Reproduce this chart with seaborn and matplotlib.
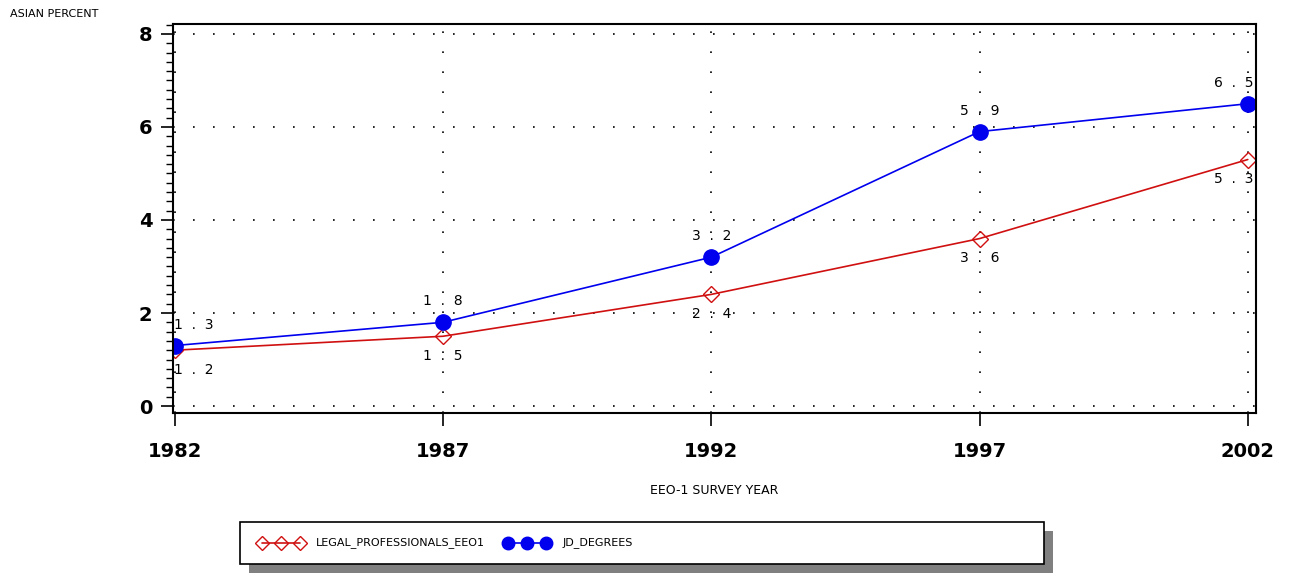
import matplotlib
matplotlib.use("Agg")
import matplotlib.pyplot as plt
from matplotlib.patches import Rectangle
from matplotlib.ticker import MultipleLocator
import seaborn as sns
import pandas as pd

years = [1982, 1987, 1992, 1997, 2002]
legal_eeo1 = [1.2, 1.5, 2.4, 3.6, 5.3]
jd_degrees = [1.3, 1.8, 3.2, 5.9, 6.5]
series_names = ["LEGAL_PROFESSIONALS_EEO1", "JD_DEGREES"]

df = pd.DataFrame({
    "year": years * 2,
    "pct": legal_eeo1 + jd_degrees,
    "series": [series_names[0]] * len(years) + [series_names[1]] * len(years),
})

sns.set_style("white")
plt.rcParams['font.family'] = ['DejaVu Sans']
plt.rcParams['text.color'] = "black"
plt.rcParams['xtick.color'] = "black"
plt.rcParams['ytick.color'] = "black"

fig = plt.figure(figsize=(12.92, 5.76), dpi=100)
ax = fig.add_axes([0.134, 0.283, 0.838, 0.675])

palette = {series_names[0]: "#d01010", series_names[1]: "#0000ee"}
sns.lineplot(data=df, x="year", y="pct", hue="series", palette=palette,
             ax=ax, legend=False, linewidth=1.2)

# markers
ax.plot(years, legal_eeo1, linestyle="none", marker="D", markersize=8,
        markerfacecolor="none", markeredgecolor="#d01010", markeredgewidth=1.0)
ax.plot(years, jd_degrees, linestyle="none", marker="o", markersize=11,
        color="#0000ee")

# value labels, nudged inward at the ends
def fmt(v):
    return "  .  ".join(f"{v:.1f}".split("."))

nudge = [14, 0, 0, 0, -10]
for dx, x, v in zip(nudge, years, jd_degrees):
    ax.annotate(fmt(v), (x, v), xytext=(dx, 10),
                textcoords="offset points", ha="center", va="bottom",
                fontsize=10, color="black")
for dx, x, v in zip(nudge, years, legal_eeo1):
    ax.annotate(fmt(v), (x, v), xytext=(dx, -9),
                textcoords="offset points", ha="center", va="top",
                fontsize=10, color="black")

ax.set_xlim(1981.97, 2002.15)
ax.set_ylim(-0.15, 8.21)
ax.set_xticks(years)
ax.set_yticks([0, 2, 4, 6, 8])
ax.yaxis.set_minor_locator(MultipleLocator(0.2))
ax.grid(True, which="major", linestyle=(0, (1, 11)), color="black", linewidth=1.2)
ax.tick_params(axis="both", which="major", direction="out", length=9, width=1.2,
               labelsize=14, bottom=True, left=True, colors="black")
ax.tick_params(axis="y", which="minor", direction="out", length=5, width=1.0, left=True)
ax.tick_params(axis="x", pad=12)
ax.tick_params(axis="y", pad=6)
for lbl in ax.get_xticklabels() + ax.get_yticklabels():
    lbl.set_fontweight("bold")
for s in ax.spines.values():
    s.set_color("black")
    s.set_linewidth(1.5)
ax.set_xlabel("")
ax.set_ylabel("")

fig.text(0.008, 0.975, "ASIAN PERCENT", fontsize=8, ha="left", va="center")
fig.text(0.553, 0.148, "EEO-1 SURVEY YEAR", fontsize=9, ha="center", va="center")

# legend box with drop shadow
lx0, ly0, lw, lh = 240 / 1292, 1 - 564 / 576, 804 / 1292, 42 / 576
fig.patches.append(Rectangle((lx0 + 0.007, ly0 - 0.016), lw, lh, transform=fig.transFigure,
                             facecolor="#808080", edgecolor="none", zorder=1))
fig.patches.append(Rectangle((lx0, ly0), lw, lh, transform=fig.transFigure,
                             facecolor="white", edgecolor="black", linewidth=1.2, zorder=2))
ly = ly0 + lh / 2
fig.lines.append(plt.Line2D([262 / 1292, 281 / 1292, 300 / 1292], [ly, ly, ly],
                            transform=fig.transFigure,
                            color="#d01010", linewidth=1.2, marker="D", markersize=7,
                            markerfacecolor="none", zorder=3))
fig.lines.append(plt.Line2D([508 / 1292, 527 / 1292, 546 / 1292], [ly, ly, ly],
                            transform=fig.transFigure,
                            color="#0000ee", linewidth=1.2, marker="o", markersize=9,
                            zorder=3))
fig.text(316 / 1292, ly, series_names[0], fontsize=8, ha="left", va="center", zorder=4)
fig.text(563 / 1292, ly, series_names[1], fontsize=8, ha="left", va="center", zorder=4)

fig.savefig("out.png", dpi=100)
